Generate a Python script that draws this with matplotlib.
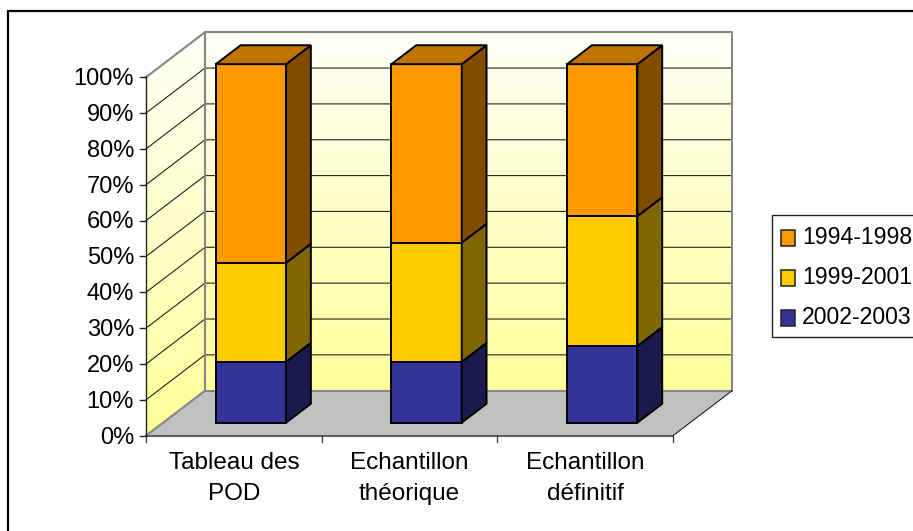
import numpy as np
import matplotlib
matplotlib.use('Agg')
import matplotlib.pyplot as plt
from matplotlib.colors import LinearSegmentedColormap
from matplotlib.patches import Polygon, Rectangle

plt.rcParams['font.family'] = ['Liberation Sans', 'DejaVu Sans']

categories = ['Tableau des\nPOD', 'Echantillon\nthéorique', 'Echantillon\ndéfinitif']
periods = ['2002-2003', '1999-2001', '1994-1998']
share_2002_2003 = [17.0, 17.0, 21.4]
share_1999_2001 = [27.6, 33.2, 36.2]
share_1994_1998 = [55.4, 49.8, 42.4]
y_ticks = [0, 10, 20, 30, 40, 50, 60, 70, 80, 90, 100]

face_colors = ['#333399', '#FFCC00', '#FF9900']
side_colors = ['#1A1A4D', '#806600', '#804D00']
top_color = '#BF7300'

# oblique projection: category position, percent and depth (0 front, 1 back) to pixels
X0, Y0 = 146.0, 435.7
CAT_W = 175.67
PCT_H = 3.585
DEPTH_X, DEPTH_Y = 59.0, 45.0

def project(cat, pct, depth=0.0):
    return (X0 + cat * CAT_W + depth * DEPTH_X,
            Y0 - pct * PCT_H - depth * DEPTH_Y)

def quad(ax, points, color, edge='none', lw=0.0, z=1):
    patch = Polygon(points, closed=True, facecolor=color, edgecolor=edge,
                    linewidth=lw, joinstyle='miter', zorder=z)
    ax.add_patch(patch)
    return patch

def wall(ax, points, cmap):
    # vertical fade clipped to the wall outline
    xs = [p[0] for p in points]
    ys = [p[1] for p in points]
    fade = np.linspace(0, 1, 256).reshape(-1, 1)
    img = ax.imshow(fade, cmap=cmap, aspect='auto', zorder=1,
                    extent=(min(xs), max(xs), max(ys), min(ys)))
    clip = Polygon(points, closed=True, transform=ax.transData)
    img.set_clip_path(clip)

fig = plt.figure(figsize=(9.13, 5.31), dpi=100)
ax = fig.add_axes([0, 0, 1, 1])
n_cat = len(categories)
wall_cmap = LinearSegmentedColormap.from_list('wall', ['#FFFFF8', '#FFFF99'])

back = [project(0, 100, 1), project(n_cat, 100, 1), project(n_cat, 0, 1), project(0, 0, 1)]
side = [project(0, 100, 0), project(0, 100, 1), project(0, 0, 1), project(0, 0, 0)]
floor = [project(0, 0, 0), project(n_cat, 0, 0), project(n_cat, 0, 1), project(0, 0, 1)]
wall(ax, back, wall_cmap)
wall(ax, side, wall_cmap)
quad(ax, floor, '#C0C0C0', z=1)

# gridlines on both walls
for t in y_ticks[1:-1]:
    ax.plot(*zip(project(0, t, 0), project(0, t, 1), project(n_cat, t, 1)),
            color='#222222', lw=0.8, zorder=2)

# wall outlines
grey = '#858585'
ax.plot(*zip(project(0, 0, 0), project(0, 0, 1), project(0, 100, 1), project(0, 100, 0)),
        color=grey, lw=1.5, zorder=3)
ax.plot(*zip(project(0, 100, 1), project(n_cat, 100, 1), project(n_cat, 0, 1), project(0, 0, 1)),
        color=grey, lw=1.5, zorder=3)
ax.plot(*zip(project(n_cat, 0, 0), project(n_cat, 0, 1)), color='#222222', lw=0.8, zorder=3)
ax.plot(*zip(project(0, 0, 0), project(n_cat, 0, 0)), color='#444444', lw=1.2, zorder=3)

# value axis
ax.plot(*zip(project(0, 0), project(0, 100)), color='#222222', lw=1.0, zorder=3)
for t in y_ticks:
    x, y = project(0, t)
    ax.plot([x - 6, x], [y, y], color='#222222', lw=1.0, zorder=3)
    ax.text(x - 12, y - 0.7, f'{t}%', ha='right', va='center_baseline', fontsize=17, color='black')

# category axis
for i in range(n_cat + 1):
    x, y = project(i, 0)
    ax.plot([x, x], [y, y + 6], color='#333333', lw=0.9, zorder=3)
for i, name in enumerate(categories):
    x, y = project(i + 0.5, 0)
    ax.text(x, y + 16, name, ha='center', va='top', fontsize=17.5, color='black',
            linespacing=1.55)

# stacked bars, bottom segment first
BAR_W = 0.2
D0, D1 = 0.29, 0.71
series = [share_2002_2003, share_1999_2001, share_1994_1998]
bottoms = np.zeros(n_cat)
for s, values in enumerate(series):
    tops = bottoms + np.array(values)
    for i in range(n_cat):
        c = i + 0.5
        lo, hi = bottoms[i], tops[i]
        quad(ax, [project(c - BAR_W, lo, D0), project(c + BAR_W, lo, D0),
                  project(c + BAR_W, hi, D0), project(c - BAR_W, hi, D0)],
             face_colors[s], 'black', 1.4, z=5 + s)
        quad(ax, [project(c + BAR_W, lo, D0), project(c + BAR_W, lo, D1),
                  project(c + BAR_W, hi, D1), project(c + BAR_W, hi, D0)],
             side_colors[s], 'black', 1.4, z=5 + s)
        if s == len(series) - 1:
            quad(ax, [project(c - BAR_W, hi, D0), project(c + BAR_W, hi, D0),
                      project(c + BAR_W, hi, D1), project(c - BAR_W, hi, D1)],
                 top_color, 'black', 1.4, z=5 + s)
    bottoms = tops

# legend runs off the right side
ax.add_patch(Rectangle((772, 215), 160, 122, facecolor='white', edgecolor='#222222',
                       linewidth=1.0, zorder=4))
legend_rows = [230, 270, 310]
for row, s in zip(legend_rows, [2, 1, 0]):
    ax.add_patch(Rectangle((781, row), 14, 16, facecolor=face_colors[s], edgecolor='#222222',
                           linewidth=1.1, zorder=5))
    ax.text(802, row + 4.5, periods[s], ha='left', va='center_baseline', fontsize=16.6,
            color='black', zorder=5)

# chart area border, only the top and left edges are in frame
ax.plot([8, 8, 913], [531, 11, 11], color='black', lw=1.6, zorder=6,
        solid_joinstyle='miter')

ax.set_xlim(0, 913)
ax.set_ylim(531, 0)
ax.axis('off')
fig.savefig('out.png', dpi=100, facecolor='white')
